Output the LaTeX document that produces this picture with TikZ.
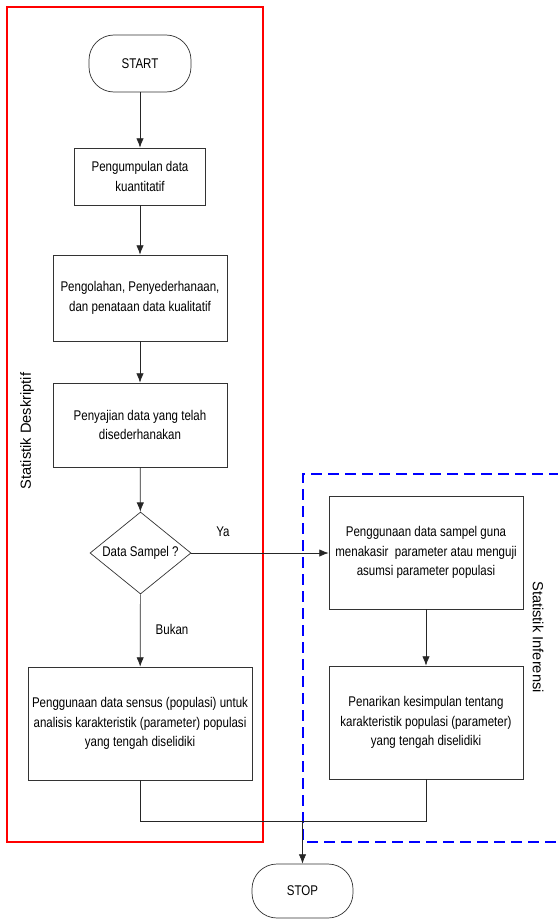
\documentclass[tikz,border=0pt]{standalone}
\usepackage{fontspec}
\setmainfont[FakeStretch=0.82]{Liberation Sans}
\newfontfamily\sidefont{Liberation Sans}
\usetikzlibrary{shapes,positioning,arrows.meta}

\begin{document}
\begin{tikzpicture}[x=0.03cm, y=-0.03cm,
            style = {font=\fontsize{12}{16.5}\selectfont, semithick},
            proc/.style = {draw=black!80, rectangle, align=center, inner sep=0pt},
            term/.style = {draw=black!80, rectangle, rounded corners=0.75cm, inner sep=0pt},
            decision/.style = {draw=black!80, diamond, aspect=1.23, inner sep=0pt,
                minimum width=3.03cm, minimum height=2.46cm},
            side/.style = {font=\sidefont\fontsize{12.5}{15}\selectfont},
            arrow/.style = {-{Latex[length=2.8mm, width=2.2mm]}, black!85}]
            \useasboundingbox (0,0) rectangle (557,920);
            % frames
            \draw[red, line width=1.1pt] (7,7) rectangle (263,842);
            \draw[blue, line width=1.1pt, dash pattern=on 0.33cm off 0.18cm]
                (560,474) -- (303,474) -- (303,842) -- (560,842);
            % left column
            \node (start) [term, minimum width=3.06cm, minimum height=1.71cm] at (140,63.5) {START};
            \node (collect) [proc, minimum width=3.93cm, minimum height=1.71cm] at (140,176.5)
                {Pengumpulan data\\kuantitatif};
            \node (process) [proc, minimum width=5.22cm, minimum height=2.58cm] at (140,298)
                {Pengolahan, Penyederhanaan,\\dan penataan data kualitatif};
            \node (present) [proc, minimum width=5.22cm, minimum height=2.52cm] at (140,425)
                {Penyajian data yang telah\\disederhanakan};
            \node (sample) [decision] at (140.5,553) {Data Sampel ?};
            \node (census) [proc, minimum width=6.72cm, minimum height=3.39cm] at (140,723.5)
                {Penggunaan data sensus (populasi) untuk\\analisis karakteristik (parameter) populasi\\yang tengah diselidiki};
            % right column
            \node (infer) [proc, minimum width=5.82cm, minimum height=3.39cm] at (426,552.5)
                {Penggunaan data sampel guna\\menakasir~ parameter atau menguji\\asumsi parameter populasi};
            \node (conclude) [proc, minimum width=5.82cm, minimum height=3.39cm] at (426,722.5)
                {Penarikan kesimpulan tentang\\karakteristik populasi (parameter)\\yang tengah diselidiki};
            \node (stop) [term, minimum width=3.03cm, minimum height=1.62cm] at (302.5,891) {STOP};
            % labels
            \node (ya) at (223,532) {Ya};
            \node (bukan) at (172,629) {Bukan};
            \node (deskriptif) [side, rotate=90] at (27,431) {Statistik Deskriptif};
            \node (inferensi) [side, rotate=-90] at (538,637) {Statistik Inferensi};
            % connectors
            \draw[arrow] (start) -- (collect);
            \draw[arrow] (collect) -- (process);
            \draw[arrow] (process) -- (present);
            \draw[arrow] (present) -- (sample);
            \draw[arrow] (sample) -- (census);
            \draw[arrow] (sample.east) -- (sample.east -| infer.west);
            \draw[arrow] (infer) -- (conclude);
            \coordinate (join) at (302.5,821);
            \draw[black!85] (census.south) |- (join) -| (conclude.south);
            \draw[arrow] (join) -- (stop);
\end{tikzpicture}
\end{document}
